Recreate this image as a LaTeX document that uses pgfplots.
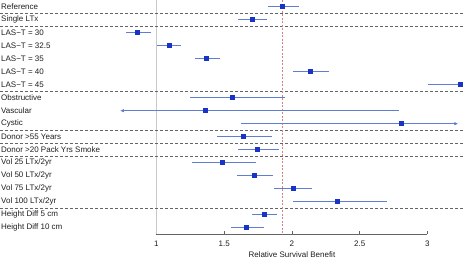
\documentclass[border=0pt]{standalone}
\usepackage{fontspec}
\setmainfont{Liberation Sans}
\usepackage{pgfplots}
\usepackage{pgfplotstable}
\pgfplotsset{compat=1.18}
\usetikzlibrary{arrows.meta}
\definecolor{mk}{RGB}{25,50,200}
\definecolor{cil}{RGB}{95,125,210}
\definecolor{sep}{RGB}{100,100,100}
\definecolor{refl}{RGB}{212,130,130}
\definecolor{vline}{RGB}{200,200,200}
\definecolor{txt}{RGB}{30,30,30}
\newcommand\f{\fontsize{8bp}{9.6bp}\selectfont}
\tikzset{
  sepl/.style={sep, line width=0.6bp, dash pattern=on 3bp off 2bp},
  lab/.style={font=\f, text=txt, anchor=west, inner sep=0pt, xshift=1bp},
}

% row  estimate  minus  plus
\pgfplotstableread{
row est em ep
1 1.932 0.111 0.118
2 1.706 0.104 0.108
3 0.861 0.085 0.097
4 1.091 0.089 0.091
5 1.371 0.088 0.098
6 2.136 0.130 0.136
7 3.241 0.239 0.300
8 1.558 0.310 0.389
11 1.642 0.192 0.211
12 1.747 0.145 0.160
13 1.482 0.217 0.251
14 1.723 0.126 0.135
15 2.006 0.138 0.145
16 2.333 0.322 0.371
17 1.797 0.091 0.095
18 1.666 0.118 0.128
}\citab

\begin{document}
\begin{tikzpicture}
\begin{axis}[
  scale only axis,
  width=463bp, height=234.3bp,
  xmin=-0.1542, xmax=3.2627,
  ymin=0.485, ymax=18.51,
  y dir=reverse,
  axis line style={draw=none},
  ytick=\empty,
  xtick={1,1.5,2,2.5,3},
  xticklabels={1,1.5,2,2.5,3},
  xtick pos=bottom,
  tick align=inside,
  major tick length=3bp,
  tick style={sep, line width=0.6bp},
  xticklabel style={font=\f, text=txt, anchor=base, yshift=-12.5bp},
  clip mode=individual,
]
% reference lines
\draw[vline, line width=0.6bp] (axis cs:1,0.485) -- (axis cs:1,18.51);
\draw[sep, line width=0.6bp] (axis cs:1,18.51) -- (axis cs:3,18.51);
\draw[sepl] (axis cs:-0.1542,1.5) -- (axis cs:3.2627,1.5);
\draw[sepl] (axis cs:-0.1542,2.5) -- (axis cs:3.2627,2.5);
\draw[sepl] (axis cs:-0.1542,7.5) -- (axis cs:3.2627,7.5);
\draw[sepl] (axis cs:-0.1542,10.5) -- (axis cs:3.2627,10.5);
\draw[sepl] (axis cs:-0.1542,11.5) -- (axis cs:3.2627,11.5);
\draw[sepl] (axis cs:-0.1542,12.5) -- (axis cs:3.2627,12.5);
\draw[sepl] (axis cs:-0.1542,16.5) -- (axis cs:3.2627,16.5);
\draw[refl, line width=0.7bp, dash pattern=on 2bp off 1.5bp] (axis cs:1.932,0.485) -- (axis cs:1.932,18.51);

% CI with arrows
\addplot[cil, line width=0.8bp, -{Latex[length=4bp,width=3.5bp]}] coordinates {(2.790,9) (0.731,9)};
\addplot[cil, line width=0.8bp, -{Latex[length=4bp,width=3.5bp]}] coordinates {(1.627,10) (3.228,10)};

% estimates with CIs
\addplot[only marks, mark=square*, mark size=2bp, mk,
  error bars/.cd, x dir=both, x explicit, error mark=none,
  error bar style={cil, line width=0.8bp}]
  table[x=est, y=row, x error minus=em, x error plus=ep]{\citab};
\addplot[only marks, mark=square*, mark size=2bp, mk] coordinates {(1.361,9) (2.803,10)};

% row labels
\node[lab] at (axis cs:-0.1542,1) {Reference};
\node[lab] at (axis cs:-0.1542,2) {Single LTx};
\node[lab] at (axis cs:-0.1542,3) {LAS−T = 30};
\node[lab] at (axis cs:-0.1542,4) {LAS−T = 32.5};
\node[lab] at (axis cs:-0.1542,5) {LAS−T = 35};
\node[lab] at (axis cs:-0.1542,6) {LAS−T = 40};
\node[lab] at (axis cs:-0.1542,7) {LAS−T = 45};
\node[lab] at (axis cs:-0.1542,8) {Obstructive};
\node[lab] at (axis cs:-0.1542,9) {Vascular};
\node[lab] at (axis cs:-0.1542,10) {Cystic};
\node[lab] at (axis cs:-0.1542,11) {Donor >55 Years};
\node[lab] at (axis cs:-0.1542,12) {Donor >20 Pack Yrs Smoke};
\node[lab] at (axis cs:-0.1542,13) {Vol 25 LTx/2yr};
\node[lab] at (axis cs:-0.1542,14) {Vol 50 LTx/2yr};
\node[lab] at (axis cs:-0.1542,15) {Vol 75 LTx/2yr};
\node[lab] at (axis cs:-0.1542,16) {Vol 100 LTx/2yr};
\node[lab] at (axis cs:-0.1542,17) {Height Diff 5 cm};
\node[lab] at (axis cs:-0.1542,18) {Height Diff 10 cm};
\coordinate (tl) at (axis cs:-0.1542,0.485);
\coordinate (br) at (axis cs:3.2627,18.51);
\coordinate (xl) at (axis cs:2,18.51);
\end{axis}
\node[font=\f, text=txt, anchor=base, inner sep=0pt] at ([yshift=-23.3bp]xl) {Relative Survival Benefit};
\pgfresetboundingbox
\useasboundingbox (tl) rectangle ([yshift=-25.7bp]br);
\end{tikzpicture}
\end{document}
